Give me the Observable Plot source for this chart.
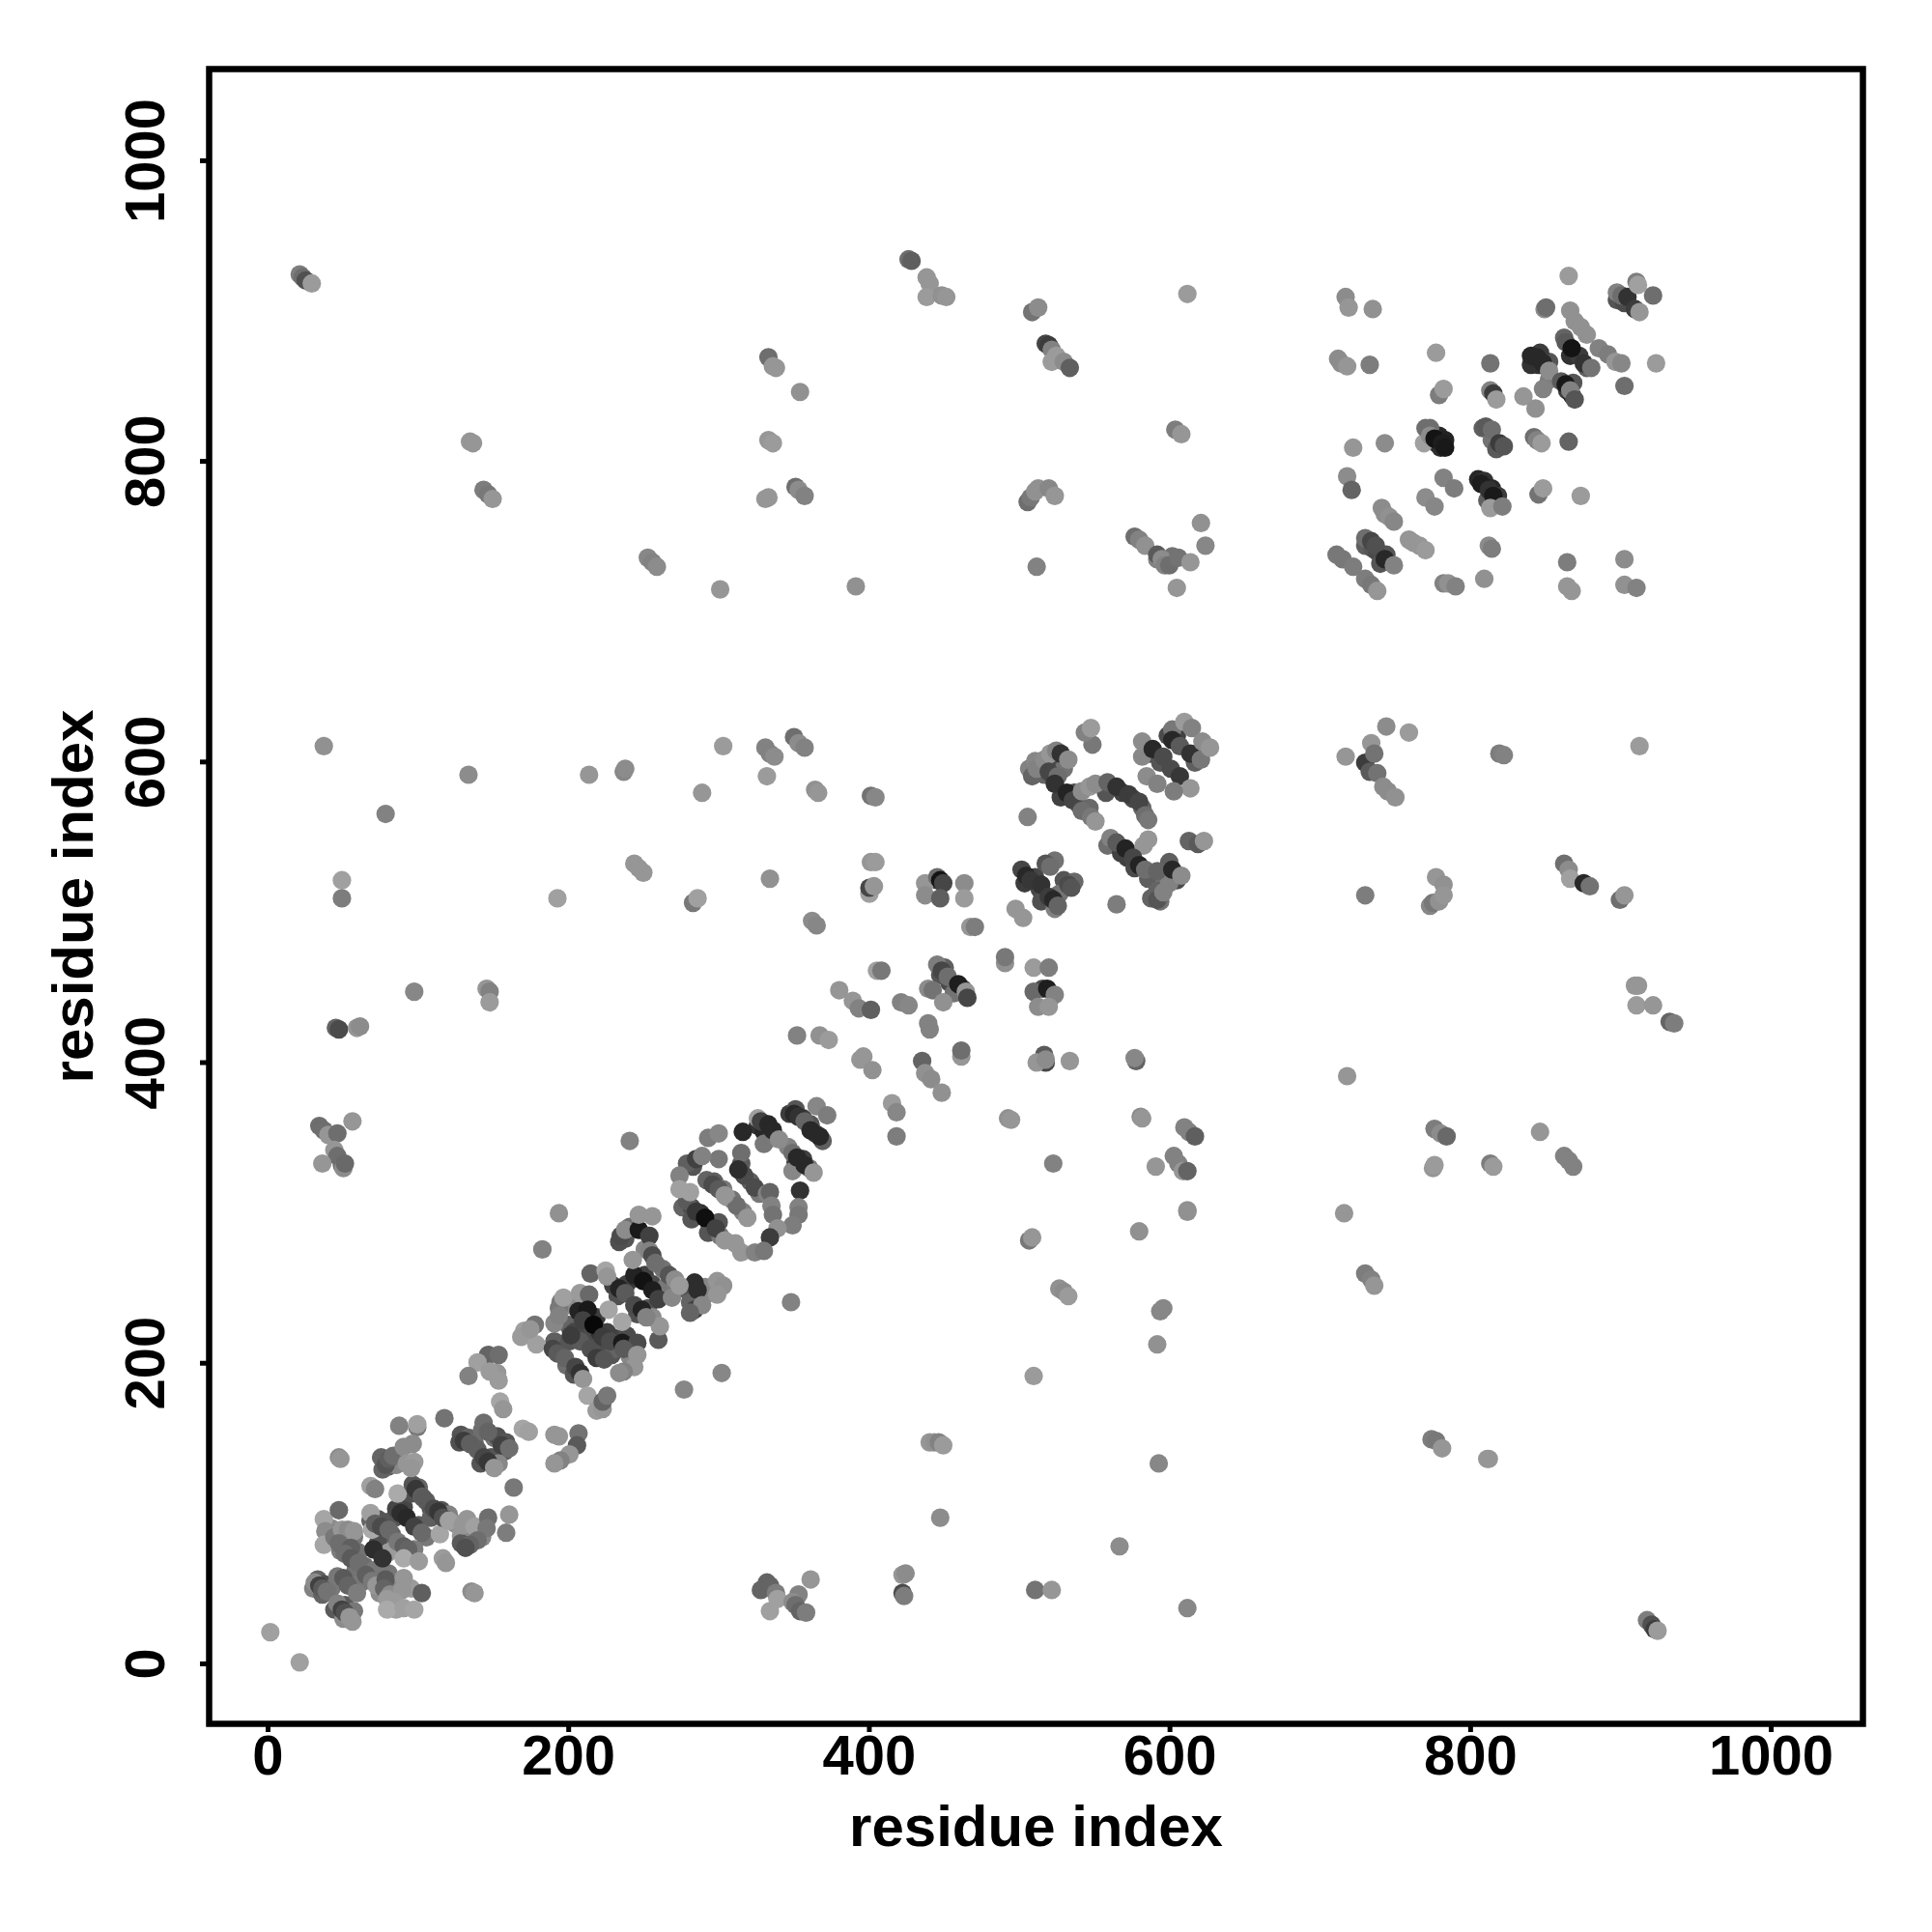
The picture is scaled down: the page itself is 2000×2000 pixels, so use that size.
<!DOCTYPE html>
<html>
<head>
<meta charset="utf-8">
<style>html,body{margin:0;padding:0;background:#fff}svg{display:block}</style>
<script src="https://cdn.jsdelivr.net/npm/d3@7"></script>
<script src="https://cdn.jsdelivr.net/npm/@observablehq/plot@0.6"></script>
</head>
<body>
<div id="chart"></div>
<script>
// Each contact: [residue x, residue y, grey tone 0-255]
const tickValues = [0, 200, 400, 600, 800, 1000];
const axisTitle = "residue index";
// The values below were read against a ruler that ran 0.26% short.
const rulerCorrection = 1.0026;

const underA = [[33,56,100],[37,53,80],[42,50,120],[30,50,130],[36,46,100],[44,36,90],[51,39,90],[57,35,120],[50,30,140],[56,28,150],
[42,90,140],[46,87,130],[52,82,125],[57,84,120],[48,75,125],[60,74,115],[58,62,115],[64,65,110],[70,62,120],[62,54,120],[75,55,115],[82,55,125],[80,60,120],[85,50,130],[74,47,140],[95,50,155],[85,36,160],
[68,95,100],[73,96,85],[78,94,85],[82,86,100],[84,97,85],[90,104,70],[100,92,90],[105,84,120],[84,76,125],[97,76,125],[73,80,80],[80,74,155]];
const underB = [[95,113,80],[100,117,100],[105,108,95],[108,103,85],[115,102,85],[120,99,130],[108,97,95],[124,93,145],[135,92,150],[128,85,150],[136,84,135],[142,84,135],[128,80,90],
[128,152,85],[127,147,80],[133,150,100],[137,147,105],[142,155,110],[150,150,115],[152,151,80],[158,147,85],[157,141,95],[141,133,85],[148,137,85],[153,133,135],[75,137,100],[80,131,95],[76,129,100],[85,132,135]];
const underC = [[190,214,95],[195,212,95],[198,198,110],[203,192,85],[199,225,100],[200,214,85],[205,222,95],[208,217,75],[217,209,85],[222,206,75],[228,205,85],[210,230,50],[218,230,60],[214,220,75],[220,220,50],[225,220,65],[230,216,65],[238,218,75],[230,209,100],[240,204,135],[190,226,135],[194,240,120],[200,238,140]];
const underD = [[229,251,65],[232,244,80],[238,252,65],[244,256,55],[250,258,65],[255,252,75],[260,246,85],[245,232,80],[252,236,85],[255,230,140],[264,250,120],[269,250,120],[278,248,95],[282,245,80],[288,243,120],[280,240,100],[290,250,135],[292,246,135],[237,282,85],[233,280,80],[240,290,110],[250,275,135],[262,262,115]];
const underE = [[275,303,100],[281,303,75],[287,299,50],[281,295,85],[293,292,50],[299,293,85],[292,286,85],[300,284,120],[310,279,150],[291,321,100],[296,320,95],[302,315,120],[308,308,115],[315,300,130],[320,320,95],[313,328,85],[326,312,120],[282,330,85],[278,332,95],[325,357,50],[329,353,40],[334,349,60],[329,345,120],[346,365,60],[350,368,85],[355,362,65],[360,358,85],[363,352,65],[368,347,95],[345,343,130],[350,333,65],[355,335,65],[359,329,120],[348,327,135]];
const underF = [[500,527,70],[502,518,60],[509,522,70],[512,514,70],[522,533,115],[528,520,85],[525,511,115],[513,506,80],[522,501,130],[535,519,105],
[505,594,130],[509,599,135],[520,597,85],[515,590,100],[522,600,75],[528,594,115],[526,575,65],[535,578,75],[538,570,95],[545,568,105],[556,578,85],[567,578,65],[574,574,75],[580,568,100],[557,543,110],[566,538,65],[570,535,65],[575,528,75],[584,521,95],[595,520,115],[603,520,75],[598,532,95],[590,513,100],[592,506,115],[585,604,75],[592,598,85],[597,616,75],[603,616,65],[615,598,95],[618,605,130]];
const underG = [[770,818,70],[775,810,55],[777,815,40],[781,812,35],[778,807,45],[806,820,95],[812,812,115],[815,806,90],[838,862,50],[843,862,50],[850,864,85],[844,870,60],[862,845,60],[865,842,40],[866,850,85],[860,880,100],[864,868,50],[870,868,60],[875,860,95],[803,786,40],[807,785,50],[812,780,40],[816,775,60],[809,772,95],[728,742,95],[733,740,85],[736,738,75],[738,730,85],[742,736,85],[771,820,110],[850,852,125],[846,846,130],[600,735,115],[590,733,130],[895,905,85],[900,903,75],
[444,520,65],[514,448,75],[515,404,90],[452,452,75],[461,448,75],[449,462,95],[446,457,85],[455,445,115]];

const helixA = [[1.5,21,160],[21,1,160],[31,54,140],[34,52,65],[36,50,90],[39,48,115],[46,40,130],[49,36,65],[51,34,80],[54,31,150],[46,58,120],[50,57,90],[53,52,100],[59,47,125],
[37,96,165],[47,102,105],[38,88,140],[37,79,165],[44,84,120],[49,89,150],[53,89,140],[57,88,150],[47,80,110],[55,77,95],[51,73,110],[55,70,90],[60,67,110],[65,59,95],[69,55,120],[72,52,150],[78,56,90],[77,50,100],[81,46,140],[90,57,150],[89,49,150],[102,47,95],[79,43,155],[84,41,155],[79,36,170],[90,37,160],[97,36,165]];
const helixB = [[68,100,160],[69,89,170],[71,93,95],[75,91,75],[80,89,105],[86,81,120],[90,78,95],[93,76,100],[85,103,70],[88,100,45],[92,97,40],[97,91,65],[102,87,105],[70,76,45],[76,70,50],[86,113,170],[68,118,160],[71,116,130],[114,86,165],[90,70,170],[100,68,155],[116,70,155],[118,67,150],
[96,119,85],[98,116,55],[102,111,95],[103,110,90],[110,103,75],[113,101,55],[116,97,80],[120,95,160],[129,92,150],[132,96,150],[137,91,160],[146,97,110],[145,90,120],[139,82,110],[134,79,100],[131,77,80],[160,99,150],[158,87,125],[163,117,120],[135,48,140],[137,47,150]];
const helixC = [[87,158,130],[99,157,120],[99,159,160],[117,163,115],[47,137,140],[48,136,150],[78,132,85],[80,136,95],[83,138,110],[90,144,140],[96,146,140],[92,133,150],[97,134,155],[95,130,150],
[130,148,60],[134,146,95],[139,142,95],[143,160,110],[146,154,100],[155,145,65],[160,143,110],[143,137,70],[146,134,55],[150,130,150],[154,174,165],[156,169,150],[169,156,165],[173,154,160],
[190,152,150],[193,151,150],[206,153,115],[205,145,90],[200,139,150],[194,135,130],[190,133,150],
[146,205,100],[153,205,110],[139,200,160],[133,191,130],[152,193,150],[153,188,155],[147,194,155],[177,225,115],[170,221,160],[168,217,155],[178,212,160],[174,222,150]];
const helixD = [[189,209,70],[192,206,90],[197,203,100],[204,197,70],[207,193,50],[209,189,150],[203,220,70],[207,214,90],[214,209,80],[218,203,60],[223,202,85],[212,178,165],[218,168,155],[222,169,150],[222,174,100],[225,178,120],
[214,259,100],[224,261,165],[225,257,150],[193,236,120],[196,243,160],[207,246,155],[213,245,105],[193,231,130],[206,234,35],[212,235,25],[209,228,65],[216,225,8],[201,218,60],[222,217,60],[227,214,75],[235,213,25],[245,213,75],[259,215,90],[236,209,90],[245,205,150],[243,197,150],[236,194,130],[233,193,140],[260,224,150],[235,227,165],[226,235,165],[276,182,135],[301,193,135]];
const helixE = [[233,249,35],[237,246,90],[243,258,35],[249,254,18],[255,248,30],[259,242,65],[243,238,75],[248,235,35],[251,230,130],[268,243,135],[242,268,150],[234,284,75],[237,288,140],[246,288,25],[253,284,65],[253,274,130],[255,271,75],[257,266,110],[246,298,150],[255,297,150],[266,258,85],[270,255,140],[283,253,45],[285,248,45],[273,251,155],[298,254,150],[302,251,145],[283,235,65],[288,238,135],[280,233,100],[298,245,150],[193,299,145],[182,275,130]];
const helixF = [[278,307,90],[284,300,55],[290,296,15],[297,289,65],[303,281,150],[314,273,150],[323,273,130],[295,318,75],[299,315,90],[304,310,150],[311,304,110],[318,296,150],[314,332,90],[316,324,75],[323,316,75],[331,312,130],[314,339,110],[299,335,120],[284,335,65],[288,337,130],[273,324,130],[273,315,160],[280,313,160],[292,349,125],[299,352,135],[315,353,40],[240,347,130],[325,362,160],[327,360,65],[332,358,40],[335,354,40],[339,348,140],[349,365,40],[352,363,50],[356,360,100],[364,370,135],[371,364,125],[360,354,40],[366,350,40],[348,339,110],[351,336,40],[356,331,40],[362,326,150],[353,314,50],[333,313,100],[352,303,130],[334,304,130],[335,298,115],[352,298,120],[348,291,125],[338,289,145],[333,283,60],[329,274,120],[347,240,130],[312,328,45],[303,311,150]];
const lowerFar = [[505,281,120],[507,283,150],[578,287,145],[610,301,145],[525,249,145],[528,247,140],[531,244,155],[592,234,135],[594,236,135],[590,212,145],[508,191,155],[439,147,150],[442,147,145],[445,147,130],[448,145,155],[591,133,135],[446,97,140],[565,78,140],[421,59,150],[423,60,140],[421,47,75],[422,45,125],[360,56,150],[509,49,115],[520,49,150],[610,37,135],[327,49,100],[331,54,100],[333,52,100],[337,47,125],[338,43,160],[333,35,160],[352,46,130],[348,41,140],[350,39,110],[353,35,100],[357,34,125],
[714,299,150],[728,259,125],[732,255,130],[734,251,150],[772,149,125],[775,148,120],[779,143,150],[809,136,150],[810,136,150],[915,29,125],[918,26,80],[920,23,60],[922,22,155]];
const leftMid = [[37,609,145],[133,590,140],[213,590,150],[236,592,135],[237,594,140],[288,578,150],[302,609,155],[78,564,130],[49,520,160],[49,508,125],[192,508,160],[243,531,150],[246,528,150],[249,525,150],[282,505,120],[285,508,160],[97,446,135],[145,448,150],[147,446,130],[147,439,155],[45,422,100],[47,421,75],[59,422,150],[61,423,140],[56,360,150],[34,357,110],[37,354,110],[40,351,150],[46,352,110],[44,341,150],[46,337,110],[36,332,150],[49,331,110],[50,329,140],[51,332,105]];
const topLeft = [[21,922,125],[23,920,110],[25,918,80],[29,916,155],[134,811,150],[136,810,150],[143,779,125],[146,776,120],[149,773,150],[252,734,135],[255,731,130],[258,728,140],[300,713,150]];
const topMid = [[425,932,110],[427,931,95],[437,920,150],[439,916,150],[437,907,155],[447,908,145],[450,907,150],[507,897,115],[511,900,140],[610,909,155],[516,876,70],[518,875,60],[520,872,130],[523,868,155],[520,864,155],[528,864,140],[532,860,95],[332,867,110],[335,861,150],[337,860,150],[353,844,145],[332,812,150],[335,810,155],[602,819,125],[606,816,150],[350,781,110],[352,779,140],[356,775,130],[330,773,150],[332,774,150],[504,771,110],[506,774,120],[509,778,145],[511,780,145],[518,780,135],[522,775,150],[510,728,130],[390,715,145],[575,748,110],[578,746,130],[582,742,145],[590,736,90],[593,733,140],[595,729,130],[598,729,110],[604,734,115],[612,731,150],[619,757,145],[622,742,135],[603,714,150]];
const topRightA = [[715,907,140],[717,900,150],[733,899,145],[710,866,140],[712,863,140],[716,861,150],[731,862,125],[775,870,155],[777,842,125],[780,846,155],[811,863,115],[811,845,130],[813,843,60],[815,839,155],[833,841,150],[841,833,145],[838,868,40],[842,867,40],[846,863,40],[850,858,140],[858,851,90],[861,849,25],[864,845,130],[867,839,85],[847,899,140],[848,900,110],[863,921,155],[864,898,145],[867,891,145],[871,887,145],[875,882,145],[861,877,90],[865,873,20],[873,863,50],[878,860,115],[883,873,130],[889,869,125],[894,864,150],[898,863,135],[921,863,155],[900,848,110],[895,910,130],[898,908,110],[902,907,50],[908,917,125],[909,915,160],[919,908,110],[907,899,60],[910,897,150]];
const topRightB = [[720,807,150],[741,810,140],[767,810,160],[768,820,110],[771,815,140],[774,813,20],[779,810,30],[781,807,25],[808,821,90],[812,819,110],[817,810,60],[820,808,85],[840,814,110],[842,812,130],[845,810,155],[863,811,100],[716,788,140],[719,779,100],[780,787,130],[787,780,125],[768,774,140],[774,768,135],[805,783,30],[810,779,50],[813,775,25],[811,767,155],[819,768,125],[843,776,115],[846,780,155],[871,775,155],[739,767,140],[741,763,140],[744,761,145],[747,758,135],[728,747,110],[732,745,70],[735,742,80],[741,733,40],[747,729,130],[757,746,150],[760,744,150],[764,742,150],[768,739,155],[810,742,140],[812,740,125],[709,736,120],[713,733,120],[720,728,125],[728,720,125],[732,716,120],[736,712,150],[780,717,130],[783,717,145],[788,715,130],[807,720,145],[862,731,125],[900,733,140],[862,715,150],[865,712,150],[900,716,145],[908,714,130]];
const rightMid = [[742,622,140],[757,618,155],[732,611,150],[715,602,150],[728,598,60],[731,592,90],[734,604,115],[736,591,115],[740,582,140],[743,579,140],[748,575,145],[817,604,125],[820,603,130],[910,609,155],[860,531,110],[863,527,140],[864,521,160],[873,518,40],[877,516,115],[897,507,110],[900,510,150],[728,510,125],[775,522,150],[780,517,145],[771,503,135],[773,505,120],[777,506,145],[780,510,150],[907,450,150],[909,450,150],[908,437,155],[919,437,150],[930,426,100],[933,425,125],[716,390,150],[774,355,125],[778,352,140],[782,350,105],[844,353,150],[773,329,150],[774,331,155],[811,332,125],[813,330,155],[860,337,130],[863,334,130],[866,330,130]];
const centerA = [[349,615,110],[352,611,140],[356,608,130],[330,608,130],[333,604,130],[336,602,140],[331,589,155],[363,580,145],[365,578,150],[400,576,115],[403,575,135],[400,532,150],[403,532,155],[333,521,145],[399,511,160],[399,515,70],[402,516,150],[361,493,140],[364,490,135],[436,518,150],[436,510,140],[444,522,110],[446,520,20],[448,518,70],[446,508,95],[462,518,140],[462,508,155],[496,501,150],[501,495,150],[466,489,150],[469,489,125],[489,465,145],[489,469,120],[508,462,155],[518,462,125],[508,446,105],[517,448,30],[522,444,130],[511,436,140],[518,436,150],[404,460,160],[407,460,120],[379,447,150],[388,440,150],[392,435,130],[400,434,95],[420,439,130],[425,437,135],[438,448,140],[441,447,115],[448,439,145],[444,464,125],[447,460,70],[451,456,110],[458,451,30],[463,446,150],[464,442,70]];
const centerB = [[438,425,130],[439,421,130],[351,417,130],[366,417,145],[372,414,155],[393,401,150],[395,403,150],[401,394,145],[434,400,100],[436,392,145],[440,388,140],[447,379,145],[460,403,150],[460,407,110],[516,399,70],[510,399,150],[516,401,140],[532,400,150],[576,400,100],[575,402,135],[414,372,155],[417,366,135],[417,350,125],[491,362,145],[493,361,150],[521,332,130],[579,363,140],[580,362,150],[608,356,130],[611,353,130],[615,350,95],[589,330,150],[601,337,130],[604,332,130],[607,327,150],[610,327,100],[610,300,145]];
const centerC = [[503,523,40],[506,520,55],[513,517,50],[516,531,85],[519,529,110],[531,517,75],[533,515,85],[518,509,60],[521,507,40],[524,503,100],[504,562,130],[563,504,125]];
const arcA = [[507,589,100],[510,594,130],[515,600,140],[519,604,150],[523,606,130],[526,604,50],[531,600,140],[518,592,70],[524,589,110],[522,584,50],[530,578,35],[534,573,70],[540,566,110],[546,562,120],[549,559,150],[540,579,140],[545,582,150],[549,584,140],[547,610,120],[542,618,130],[546,621,155]];
const arcB = [[557,585,100],[563,582,50],[571,577,60],[578,572,70],[582,563,110],[584,560,120],[584,547,150],[581,543,150],[559,548,130],[563,545,90],[569,541,35],[574,535,70],[578,530,35],[582,527,110],[586,508,100],[590,507,85],[594,512,130],[598,518,130],[590,526,100],[600,527,40],[606,523,140],[611,546,100],[617,544,90],[621,546,150]];
const arcC = [[580,602,135],[580,612,140],[587,607,40],[594,602,75],[599,594,75],[605,589,55],[612,581,150],[600,620,120],[600,613,40],[605,609,90],[612,604,50],[619,600,120],[608,625,155],[613,621,130],[620,612,140],[625,608,150],[583,589,140],[590,584,130],[601,579,125]];

const contacts = [underA, underB, underC, underD, underE, underF, underG, helixA, helixB, helixC, helixD, helixE, helixF, lowerFar, leftMid, topLeft, topMid, topRightA, topRightB, rightMid, centerA, centerB, centerC, arcA, arcB, arcC]
  .flat().map(([x, y, tone]) => ({x: x * rulerCorrection, y: y * rulerCorrection, tone}));

const tickStyle = {tickSize: 9, fontSize: 58, fontWeight: "bold", strokeWidth: 5, ticks: tickValues, tickFormat: d => String(d), label: null};
const titleStyle = {ticks: [], tickSize: 0, fontSize: 60, fontWeight: "bold", labelArrow: "none", labelAnchor: "center", label: axisTitle};

const chart = Plot.plot({
  width: 2000,
  height: 2000,
  marginLeft: 216,
  marginRight: 72,
  marginTop: 71,
  marginBottom: 216,
  style: {fontFamily: "'Liberation Sans', Arial, sans-serif", background: "#fff", color: "#000"},
  x: {domain: [-39.2, 1061]},
  y: {domain: [-39.9, 1061]},
  color: {type: "linear", domain: [0, 255], range: ["#000", "#fff"]},
  marks: [
    Plot.dot(contacts, {x: "x", y: "y", fill: "tone", r: 9.6}),
    Plot.frame({stroke: "#000", strokeWidth: 6.5}),
    Plot.axisX({...tickStyle, tickPadding: 2}),
    Plot.axisY({...tickStyle, tickRotate: -90, tickPadding: 38}),
    Plot.axisX({...titleStyle, labelOffset: 126}),
    Plot.axisY({...titleStyle, labelOffset: 163})
  ]
});
document.getElementById("chart").appendChild(chart);
</script>
</body>
</html>
